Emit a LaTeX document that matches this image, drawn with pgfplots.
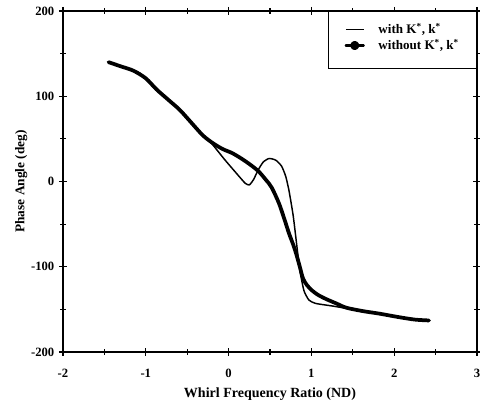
\documentclass[border=0pt]{standalone}
\usepackage{fontspec}
\setmainfont{Liberation Serif}
\usepackage{pgfplots}
\pgfplotsset{compat=1.18}
\begin{document}
\begin{tikzpicture}
\useasboundingbox (-47.25pt,-39pt) rectangle (312.75pt,264pt);
\begin{axis}[
  scale only axis,
  width=310.5pt, height=255.75pt,
  xmin=-2, xmax=3, ymin=-200, ymax=200,
  xtick={-2,-1,0,1,2,3}, ytick={-200,-100,0,100,200},
  minor xtick={-1.5,-0.5,0.5,1.5,2.5},
  minor ytick={-150,-50,50,150},
  tick align=center,
  major tick length=6pt, minor tick length=4pt,
  tick style={black, line width=0.8pt},
  axis line style={line width=1pt},
  /pgf/number format/assume math mode=true,
  ticklabel style={font=\bfseries\fontsize{9.5}{11}\selectfont},
  xticklabel style={yshift=-6pt},
  xlabel={\bfseries Whirl Frequency Ratio (ND)},
  ylabel={\bfseries Phase Angle (deg)},
  xlabel style={font=\bfseries\fontsize{10.5}{12}\selectfont, yshift=-1pt},
  ylabel style={font=\bfseries\fontsize{10}{12}\selectfont, yshift=-4pt},
  legend cell align=left,
  legend style={at={(rel axis cs:1,1)}, anchor=north east, draw=black, line width=0.6pt,
    font=\bfseries\fontsize{9.8}{11}\selectfont, inner xsep=12pt, inner ysep=7.5pt,
    row sep=0pt, column sep=9pt, nodes={inner sep=1.2pt}},
]
\addplot[black, line width=1.1pt, smooth, tension=0.35, line join=round,
  legend image code/.code={\draw[black, line width=1.1pt] (0,0) -- (13.5pt,0);}] coordinates {
(-1.45,140) (-1.3,135) (-1.07,127) (-0.87,107) (-0.59,84) (-0.31,54) (-0.2,44)
(-0.05,26) (0.1,9) (0.2,-2) (0.25,-4) (0.3,2) (0.36,14) (0.42,23) (0.49,27)
(0.57,25) (0.64,18) (0.69,6) (0.73,-11) (0.78,-40) (0.82,-72) (0.86,-104)
(0.91,-128) (0.97,-139) (1.05,-143) (1.25,-146) (1.5,-150) (1.82,-155) (2.05,-159) (2.42,-163)
};
\addlegendentry{with K\textsuperscript{*}, k\textsuperscript{*}}
\addplot[black, line width=2.8pt, smooth, tension=0.5, line join=round, line cap=round,
  legend image code/.code={\draw[black, line width=1.6pt] (0,0) -- (13.5pt,0); \fill[black] (6.75pt,0) circle (2pt);}] coordinates {
(-1.45,140) (-1.3,135) (-1.15,130) (-1.0,121) (-0.87,108) (-0.73,96) (-0.59,84) (-0.45,69) (-0.31,54) (-0.19,45)
(-0.07,38) (0.05,33) (0.2,24) (0.35,13) (0.45,2) (0.52,-7) (0.61,-26) (0.68,-46) (0.73,-61) (0.78,-74) (0.82,-86)
(0.86,-100) (0.9,-114) (0.95,-122) (1.01,-128) (1.08,-133) (1.18,-138) (1.3,-143) (1.42,-148)
(1.62,-152) (1.82,-155) (2.05,-159) (2.25,-162) (2.42,-163)
};
\addlegendentry{without K\textsuperscript{*}, k\textsuperscript{*}}
\addlegendimage{empty legend}
\addlegendentry{}
\end{axis}
\end{tikzpicture}
\end{document}
